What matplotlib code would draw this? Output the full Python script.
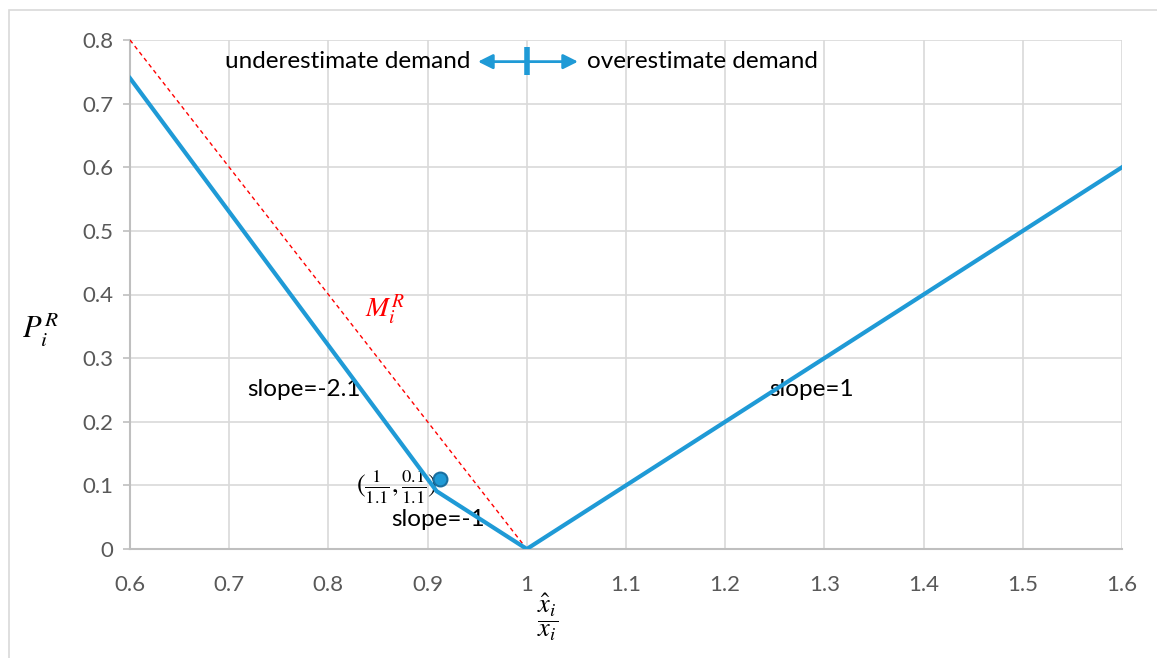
import numpy as np
import matplotlib.pyplot as plt
from matplotlib.patches import Rectangle

plt.rcParams['font.family'] = ['Lato', 'DejaVu Sans']
plt.rcParams['mathtext.fontset'] = 'stix'

# data
x_blue = [0.6, 1 / 1.1, 1.0, 1.6]
y_blue = [0.74, 0.1 / 1.1, 0.0, 0.6]
x_red = [0.6, 1.0]
y_red = [0.8, 0.0]
pt_x, pt_y = 0.912, 0.11

xticks = [0.6, 0.7, 0.8, 0.9, 1.0, 1.1, 1.2, 1.3, 1.4, 1.5, 1.6]
xtick_labels = ['0.6', '0.7', '0.8', '0.9', '1', '1.1', '1.2', '1.3', '1.4', '1.5', '1.6']
yticks = [0, 0.1, 0.2, 0.3, 0.4, 0.5, 0.6, 0.7, 0.8]
ytick_labels = ['0', '0.1', '0.2', '0.3', '0.4', '0.5', '0.6', '0.7', '0.8']

blue = '#1f9ad6'
gray = '#595959'

W, H = 1157, 658
fig = plt.figure(figsize=(W / 100, H / 100), dpi=100)
ax = fig.add_axes([130 / W, 1 - 549 / H, (1122 - 130) / W, (549 - 40) / H])

ax.plot(x_red, y_red, color='red', lw=1, ls=(0, (3, 2.5)), zorder=3)
ax.plot(x_blue, y_blue, color=blue, lw=3, zorder=4, solid_joinstyle='miter')
ax.plot([pt_x], [pt_y], 'o', ms=10, mfc=blue, mec='#1a6fa0', mew=1.5, zorder=5)

ax.set_xlim(0.6, 1.6)
ax.set_ylim(0, 0.8)
ax.set_xticks(xticks)
ax.set_xticklabels(xtick_labels)
ax.set_yticks(yticks)
ax.set_yticklabels(ytick_labels)
ax.grid(color='#d9d9d9', lw=1.2)
ax.set_axisbelow(True)
for s in ['top', 'right']:
    ax.spines[s].set_visible(False)
for s in ['left', 'bottom']:
    ax.spines[s].set_color('#bfbfbf')
    ax.spines[s].set_linewidth(1.5)
ax.tick_params(axis='y', length=5, color='#bfbfbf', width=1.2, labelsize=16, labelcolor=gray, pad=7)
ax.tick_params(axis='x', length=0, labelsize=16, labelcolor=gray, pad=19)

# annotations
fs = 17.5
ax.text(0.9427, 0.766, 'underestimate demand', ha='right', va='center', fontsize=fs)
ax.text(1.0607, 0.766, 'overestimate demand', ha='left', va='center', fontsize=fs)
ax.annotate('', xy=(0.9508, 0.766), xytext=(1.0, 0.766),
            arrowprops=dict(arrowstyle='-|>', color=blue, lw=2, mutation_scale=22, shrinkA=0, shrinkB=0))
ax.annotate('', xy=(1.0516, 0.766), xytext=(1.0, 0.766),
            arrowprops=dict(arrowstyle='-|>', color=blue, lw=2, mutation_scale=22, shrinkA=0, shrinkB=0))
ax.plot([1.0, 1.0], [0.745, 0.789], color=blue, lw=4, solid_capstyle='butt')

ax.text(0.857, 0.376, r'$M_i^R$', color='red', fontsize=20, ha='center', va='center')
ax.text(0.775, 0.25, 'slope=-2.1', fontsize=fs, ha='center', va='center')
ax.text(1.2875, 0.25, 'slope=1', fontsize=fs, ha='center', va='center')
ax.text(0.911, 0.047, 'slope=-1', fontsize=fs, ha='center', va='center')
ax.text(0.869, 0.0975, r'$(\frac{1}{1.1},\frac{0.1}{1.1})$', fontsize=19, ha='center', va='center')

fig.text(40 / W, 1 - 330 / H, r'$P_i^R$', fontsize=22, ha='center', va='center')
fig.text(548 / W, 1 - 617 / H, r'$\dfrac{\hat{x}_i}{x_i}$', fontsize=19, ha='center', va='center')

fig.add_artist(Rectangle((9 / W, -0.1), 2, 1 - 10 / H + 0.1, transform=fig.transFigure,
                         fill=False, edgecolor='#d9d9d9', lw=1.2))

fig.savefig('out.png', dpi=100)
